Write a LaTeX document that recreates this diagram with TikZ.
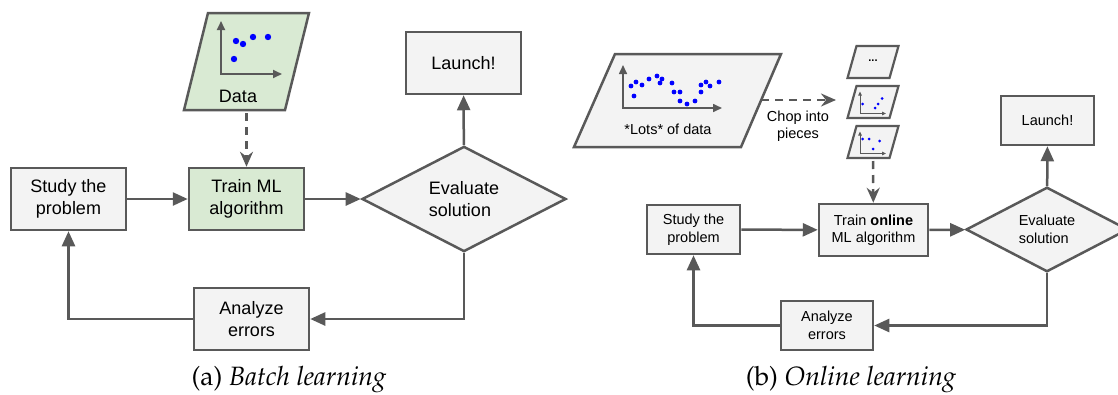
\documentclass[tikz,border=0pt]{standalone}
\usepackage[T1,TU]{fontenc}
\usepackage{fontspec}
\setmainfont{Liberation Sans}
\usepackage{tikz}
\usetikzlibrary{arrows.meta,positioning,shapes.geometric}

\definecolor{linegray}{HTML}{595959}
\definecolor{boxgray}{HTML}{F3F3F3}
\definecolor{boxgreen}{HTML}{D9EAD3}
\definecolor{dotblue}{HTML}{0000FF}

\newcommand{\capfont}{\fontencoding{T1}\fontfamily{ppl}\selectfont}

\begin{document}
\begin{tikzpicture}[x=1pt, y=-1pt, >={Triangle[length=15pt,width=13pt]},
    box/.style={draw=linegray, line width=2.5pt, fill=boxgray, align=center, inner sep=0pt},
    bigbox/.style={box, minimum width=115pt, minimum height=62pt, font=\fontsize{18}{22}\selectfont},
    smallbox/.style={box, minimum width=93pt, minimum height=49pt, font=\fontsize{14.5}{17.5}\selectfont},
    decision/.style={box, diamond, align=left},
    flow/.style={draw=linegray, line width=2.5pt, ->},
    dataflow/.style={draw=linegray, line width=2.5pt, -{Stealth[length=15pt,width=13pt,inset=5pt]},
                     dash pattern=on 8pt off 6pt},
    para/.style={draw=linegray, line width=2.5pt, fill=boxgray, line join=miter},
    axis/.style={draw=linegray, line width=2pt, {Triangle[length=9pt,width=8pt]}-{Triangle[length=9pt,width=8pt]}},
    caption/.style={font=\capfont\fontsize{26.5}{30}\selectfont}]

    \useasboundingbox (0,0) rectangle (1118,394);

    % ---------------- (a) batch learning ----------------
    % Data sheet with its little chart
    \draw[para, fill=boxgreen] (208,13) -- (309,13) -- (285,110) -- (184,110) -- cycle;
    \draw[axis] (221,21) -- (221,74) -- (282,74);
    \foreach \px/\py in {236/41, 243/44, 253/37, 268/37, 234/59}
        \fill[dotblue] (\px,\py) circle (3.2pt);
    \node[font=\fontsize{18}{22}\selectfont] (dataA) at (238,96) {Data};
    \coordinate (dataAout) at (246.5,113);

    % Boxes and decision
    \node[bigbox] (studyA) at (68.5,199) {Study the\\problem};
    \node[bigbox, fill=boxgreen] (trainA) at (246.5,199) {Train ML\\algorithm};
    \node[decision, minimum width=204pt, minimum height=82pt,
          font=\fontsize{18}{22}\selectfont] (evalA) at (464,199) {Evaluate\\solution};
    \node[bigbox] (launchA) at (463.5,63) {Launch!};
    \node[bigbox] (analyzeA) at (251.5,319) {Analyze\\errors};

    % Connectors
    \draw[dataflow] (dataAout) -- (trainA);
    \draw[flow] (studyA) -- (trainA);
    \draw[flow] (trainA) -- (evalA);
    \draw[flow] (evalA) -- (launchA);
    \draw[flow] (evalA.south) |- (analyzeA.east);
    \draw[flow] (analyzeA.west) -| (studyA.south);

    \node[caption] (capA) at (289,380) {(a) \textit{Batch learning}};

    % ---------------- (b) online learning ----------------
    % Lots of data
    \draw[para] (615,54) -- (781,54) -- (741,147) -- (574,147) -- cycle;
    \draw[axis, line width=1.6pt] (623,65) -- (623,108) -- (722,108);
    \foreach \px/\py in {631/86, 636/82, 642/85, 634/96, 649/79, 657/76, 660/83, 662/79,
                         672/83, 674/92, 680/92, 680/101, 687/104, 695/101, 701/92,
                         701/85, 706/82, 710/86, 719/82}
        \fill[dotblue] (\px,\py) circle (2.4pt);
    \node[font=\fontsize{14.5}{17.5}\selectfont] (lots) at (668,129) {*Lots* of data};
    \coordinate (lotsOut) at (761,100);
    \coordinate (piecesIn) at (836,100);
    \draw[dataflow] (lotsOut) -- (piecesIn);
    \node[font=\fontsize{14.5}{17.5}\selectfont, align=center] (chop) at (798,126) {Chop into\\pieces};

    % The pieces
    \foreach \cy in {62,102,142}
        \draw[para, line width=2.2pt] (856.5,\cy-16) -- (898.5,\cy-16) -- (889.5,\cy+16) -- (847.5,\cy+16) -- cycle;
    \node[font=\bfseries\fontsize{11}{13}\selectfont] (more) at (873,61) {...};
    \foreach \cy in {102,142}
        \draw[axis, line width=0.8pt, {Triangle[length=4pt,width=3.5pt]}-{Triangle[length=4pt,width=3.5pt]}]
            (860,\cy-10.5) -- (860,\cy+11.5) -- (886,\cy+11.5);
    \foreach \px/\py in {862.5/104, 875/108, 878/104, 882/98.5,
                         862.5/139, 869/139, 879.5/141, 873/149}
        \fill[dotblue] (\px,\py) circle (1.5pt);
    \coordinate (piecesOut) at (873,161);

    % Boxes and decision
    \node[smallbox] (studyB) at (693.5,229.5) {Study the\\problem};
    \node[smallbox, minimum width=109pt, minimum height=52pt] (trainB) at (873.5,230) {Train \textbf{online}\\ML algorithm};
    \node[decision, minimum width=162pt, minimum height=65pt,
          font=\fontsize{14.5}{17.5}\selectfont] (evalB) at (1047,229.5) {Evaluate\\solution};
    \node[smallbox] (launchB) at (1047.5,120.5) {Launch!};
    \node[smallbox, minimum width=92pt] (analyzeB) at (827,325.5) {Analyze\\errors};

    % Connectors
    \draw[dataflow] (piecesOut) -- (trainB);
    \draw[flow] (studyB) -- (trainB);
    \draw[flow] (trainB) -- (evalB);
    \draw[flow] (evalB) -- (launchB);
    \draw[flow] (evalB.south) |- (analyzeB.east);
    \draw[flow] (analyzeB.west) -| (studyB.south);

    \node[caption] (capB) at (851,380) {(b) \textit{Online learning}};
\end{tikzpicture}
\end{document}
